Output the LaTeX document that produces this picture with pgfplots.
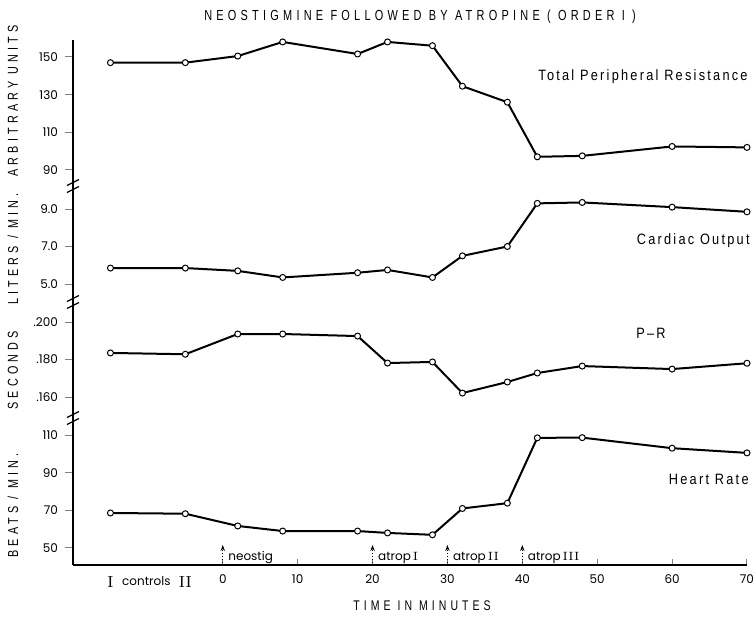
\documentclass[border=0pt]{standalone}
\usepackage{fontspec}
\usepackage{pgfplots}
\pgfplotsset{compat=1.18}
\usetikzlibrary{arrows.meta}
\newfontfamily\capfont[LetterSpace=29,FakeStretch=0.75]{Liberation Sans}
\newfontfamily\labfont[LetterSpace=15,FakeStretch=0.85]{Liberation Sans}
\newfontfamily\tickfont{Poppins}
\newcommand\tf{\tickfont\fontsize{6}{7}\selectfont}
\pgfplotsset{
  ser/.style={black, line width=1pt, mark=*, mark size=1.5pt,
      mark options={fill=white, draw=black, line width=0.5pt}},
  panel/.style={scale only axis, width=337pt, anchor=south west,
    xmin=-20, xmax=70, axis y line*=left, axis x line=none,
    axis line style={-, line width=0.9pt},
    tick align=outside, major tick length=4pt,
    ytick style={line width=0.5pt},
    xtick=\empty, tick label style={font=\tf}, clip=false},
}
\begin{document}
\begin{tikzpicture}
\path[use as bounding box] (0,0) rectangle (378pt,-310.5pt);
% Total peripheral resistance
\begin{axis}[panel, at={(36.5pt,-93pt)}, height=73pt, ymin=81.5, ymax=159.03,
  ytick={90,110,130,150}, yticklabels={90,110,130,150}]
\addplot[ser] coordinates {(-15,147)(-5,147)(2,150.5)(8,158)(18,151.6)(22,158)(28,156)(32,134.5)(38,126)(42,97)(48,97.5)(60,102.5)(70,102)};
\end{axis}
% Cardiac output
\begin{axis}[panel, at={(36.5pt,-151pt)}, height=58pt, ymin=4.04, ymax=10.227,
  ytick={5,7,9}, yticklabels={5.0,7.0,9.0}]
\addplot[ser] coordinates {(-15,5.85)(-5,5.85)(2,5.7)(8,5.35)(18,5.6)(22,5.75)(28,5.35)(32,6.5)(38,7.0)(42,9.3)(48,9.35)(60,9.1)(70,8.85)};
\end{axis}
% P-R
\begin{axis}[panel, at={(36.5pt,-209pt)}, height=58pt, ymin=0.1488, ymax=0.21067,
  ytick={0.16,0.18,0.2}, yticklabels={.160,.180,.200}]
\addplot[ser] coordinates {(-15,0.1835)(-5,0.1828)(2,0.1936)(8,0.1936)(18,0.1925)(22,0.1781)(28,0.1787)(32,0.1621)(38,0.168)(42,0.1728)(48,0.1765)(60,0.1749)(70,0.178)};
\end{axis}
% Heart rate
\begin{axis}[panel, at={(36.5pt,-282.5pt)}, height=73.5pt, ymin=40.97, ymax=119.03,
  ytick={50,70,90,110}, yticklabels={50,70,90,110}]
\addplot[ser] coordinates {(-15,68.6)(-5,68.2)(2,61.7)(8,59)(18,59)(22,58)(28,57)(32,71)(38,73.8)(42,108.5)(48,108.6)(60,103)(70,100.5)};
\end{axis}
% x axis and annotations
\begin{axis}[scale only axis, width=337pt, height=73.5pt, at={(36.5pt,-282.5pt)},
  anchor=south west, xmin=-20, xmax=70, ymin=40.97, ymax=119.03,
  axis x line*=bottom, axis y line=none, axis line style={-, line width=0.9pt},
  tick align=inside, major tick length=3pt, xtick style={line width=0.5pt},
  xtick={0,10,20,30,40,50,60,70}, xticklabels={0,10,20,30,40,50,60,70},
  xticklabel style={font=\tf, yshift=-1.5pt}, ytick=\empty, clip=false]
\foreach \xa in {0,20,30,40}{
  \edef\temp{\noexpand\draw[densely dotted, line width=0.5pt, -{Stealth[length=3pt,width=2.2pt]}] (axis cs:\xa,42) -- (axis cs:\xa,51.6);}\temp
}
\node[anchor=base west, inner sep=0, font=\tf] at (axis cs:0.7,43.6) {neostig};
\node[anchor=base west, inner sep=0, font=\tf] at (axis cs:20.7,43.6) {atrop{\rmfamily\,I}};
\node[anchor=base west, inner sep=0, font=\tf] at (axis cs:30.7,43.6) {atrop{\rmfamily\,II}};
\node[anchor=base west, inner sep=0, font=\tf] at (axis cs:40.7,43.6) {atrop{\rmfamily\,III}};
\node[font=\fontsize{8}{9}\selectfont\rmfamily] at (axis cs:-15,32) {I};
\node[font=\tf] at (axis cs:-10.2,32.3) {controls};
\node[font=\fontsize{8}{9}\selectfont\rmfamily] at (axis cs:-5,32) {II};
\end{axis}
% axis breaks
\foreach \yb in {186,302,418}{
  \draw[line width=0.6pt] (33.5pt,{-(\yb+6.5)*0.5pt}) -- ++(6pt,3pt);
  \draw[line width=0.6pt] (33.5pt,{-(\yb-0.5)*0.5pt}) -- ++(6pt,3pt);
}
% texts
\node[font=\capfont\fontsize{7.3}{8}\selectfont] at (210pt,-8.25pt) {NEOSTIGMINE FOLLOWED BY ATROPINE ( ORDER I )};
\node[font=\capfont\fontsize{7}{8}\selectfont] at (211pt,-303pt) {TIME IN MINUTES};
\node[rotate=90, anchor=west, inner sep=0, font=\capfont\fontsize{7.2}{8}\selectfont] at (6.5pt,-279pt) {BEATS / MIN.};
\node[rotate=90, anchor=west, inner sep=0, font=\capfont\fontsize{7.2}{8}\selectfont] at (6.5pt,-205pt) {SECONDS};
\node[rotate=90, anchor=west, inner sep=0, font=\capfont\fontsize{7.2}{8}\selectfont] at (6.5pt,-152.5pt) {LITERS / MIN.};
\node[rotate=90, anchor=west, inner sep=0, font=\capfont\fontsize{7.2}{8}\selectfont] at (6.5pt,-88.5pt) {ARBITRARY UNITS};
\node[anchor=east, inner sep=0, font=\labfont\fontsize{7.5}{8}\selectfont] at (374pt,-38.5pt) {Total Peripheral Resistance};
\node[anchor=east, inner sep=0, font=\labfont\fontsize{7.5}{8}\selectfont] at (375pt,-120.5pt) {Cardiac Output};
\node[inner sep=0, font=\labfont\fontsize{7.5}{8}\selectfont] at (325.5pt,-166.5pt) {P–R};
\node[anchor=east, inner sep=0, font=\labfont\fontsize{7.5}{8}\selectfont] at (374.5pt,-239.5pt) {Heart Rate};
\end{tikzpicture}
\end{document}
